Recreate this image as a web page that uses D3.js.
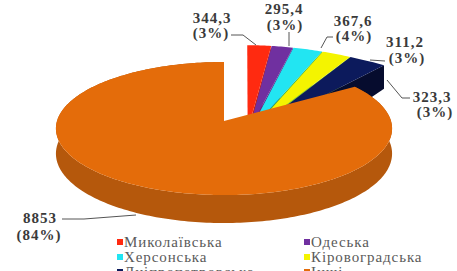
<!DOCTYPE html>
<html>
<head>
<meta charset="utf-8">
<script src="https://cdn.jsdelivr.net/npm/d3@7"></script>
<style>
  html, body { margin: 0; padding: 0; background: #fff; }
  svg { display: block; }
  .lbl { font-family: "Liberation Serif", "DejaVu Serif", serif; font-weight: bold; font-size: 15px; letter-spacing: 1px; fill: #3a3a3a; }
  .leg { font-family: "Liberation Serif", "DejaVu Serif", serif; font-size: 15px; letter-spacing: 0.9px; fill: #5a5a5a; }
</style>
</head>
<body>
<script>
// data
const regions = ["Миколаївська", "Одеська", "Херсонська", "Кіровоградська", "Дніпропетровська", "Інші"];
const values = [344.3, 295.4, 367.6, 311.2, 323.3, 8853];
const valueText = ["344,3", "295,4", "367,6", "311,2", "323,3", "8853"];
const topColors = ["#ff2a10", "#7030a0", "#22e5f2", "#f4f400", "#0c1a5c", "#e46c0a"];
const wallColors = ["#c81e0c", "#5a2585", "#35b04c", "#8cc63f", "#060c2e", "#b5580c"];

const width = 457, height = 271;
// perspective disc: x = cx + Rx*X*f, y = cy - Ry*D*f + h*f, f = 1/(1+k*D)
const bigView = { cx: 224, cy: 121, Rx: 167, Ry: 65.7, k: 0.113, H: 24.8 };
// the pulled-out slices are drawn with a stronger perspective, as in the original
const smallView = { cx: 247, cy: 135, Rx: 323, Ry: 246, k: 1.76, H: 47 };
const explode = 0.02;

const svg = d3.select("body").append("svg")
  .attr("width", width)
  .attr("height", height);

const total = d3.sum(values);
const arcs = d3.pie().sort(null).value(d => d)(values);
const last = values.length - 1;

function proj(v, X, D, h) {
  const f = 1 / (1 + v.k * D);
  return [v.cx + v.Rx * X * f, v.cy - v.Ry * D * f + h * f];
}
function sliceGeom(d, i) {
  const isBig = i === last;
  const view = isBig ? bigView : smallView;
  const m = (d.startAngle + d.endAngle) / 2;
  const u = isBig ? 0 : explode * Math.sin(m);
  const w = isBig ? 0 : explode * Math.cos(m);
  const rim = (a, h) => proj(view, u + Math.sin(a), w + Math.cos(a), h);
  const apex = h => proj(view, u, w, h);
  const steps = Math.max(2, Math.ceil((d.endAngle - d.startAngle) / 0.02));
  const angles = d3.range(steps + 1).map(j => d.startAngle + (d.endAngle - d.startAngle) * j / steps);
  return { rim, apex, angles, H: view.H };
}
const line = d3.line();

const gs = arcs.map(sliceGeom);
const g = svg.append("g");

// small slices: radial end walls, then tops
arcs.slice(0, last).forEach((d, i) => {
  const s = gs[i];
  g.append("path")
    .attr("d", line([s.apex(0), s.rim(d.endAngle, 0), s.rim(d.endAngle, s.H), s.apex(s.H)]) + "Z")
    .attr("fill", wallColors[i]);
});
arcs.slice(0, last).forEach((d, i) => {
  const s = gs[i];
  g.append("path")
    .attr("d", line([s.apex(0)].concat(s.angles.map(a => s.rim(a, 0)))) + "Z")
    .attr("fill", topColors[i]);
});

// big slice in front: outer wall then top
const b = gs[last];
g.append("path")
  .attr("d", line(b.angles.map(a => b.rim(a, 0)).concat(b.angles.slice().reverse().map(a => b.rim(a, b.H)))) + "Z")
  .attr("fill", wallColors[last]);
g.append("path")
  .attr("d", line([b.apex(0)].concat(b.angles.map(a => b.rim(a, 0)))) + "Z")
  .attr("fill", topColors[last]);

// labels
const labelPos = [[212, 23, 211, 38], [284, 14, 285, 30], [353, 26, 354, 41], [405, 47, 407, 63], [432, 102, 435, 117], [40, 223, 39, 240]];
const leaders = [
  [[231, 35], [243, 35], [256, 45]],
  [[289, 32], [289, 46]],
  [[333, 37], [327, 37], [321, 48]],
  [[385, 61], [370, 60]],
  [[410, 98], [402, 98], [387, 80]],
  [[62, 219], [84, 219], [136, 215]]
];
const fmt = d3.format(".0f");
labelPos.forEach((p, i) => {
  const t = svg.append("text").attr("class", "lbl").attr("text-anchor", "middle");
  t.append("tspan").attr("x", p[0]).attr("y", p[1]).text(valueText[i]);
  t.append("tspan").attr("x", p[2]).attr("y", p[3]).text("(" + fmt(values[i] / total * 100) + "%)");
  svg.append("path").attr("d", d3.line()(leaders[i]))
    .attr("fill", "none").attr("stroke", "#555").attr("stroke-width", 1);
});

// legend
const leg = svg.append("g");
regions.forEach((r, i) => {
  const x = i % 2 === 0 ? 117 : 304;
  const y = 247 + Math.floor(i / 2) * 15;
  leg.append("rect").attr("x", x).attr("y", y - 8).attr("width", 6).attr("height", 6)
    .attr("fill", topColors[i]);
  leg.append("text").attr("class", "leg").attr("x", x + 7).attr("y", y).text(r);
});
</script>
</body>
</html>
